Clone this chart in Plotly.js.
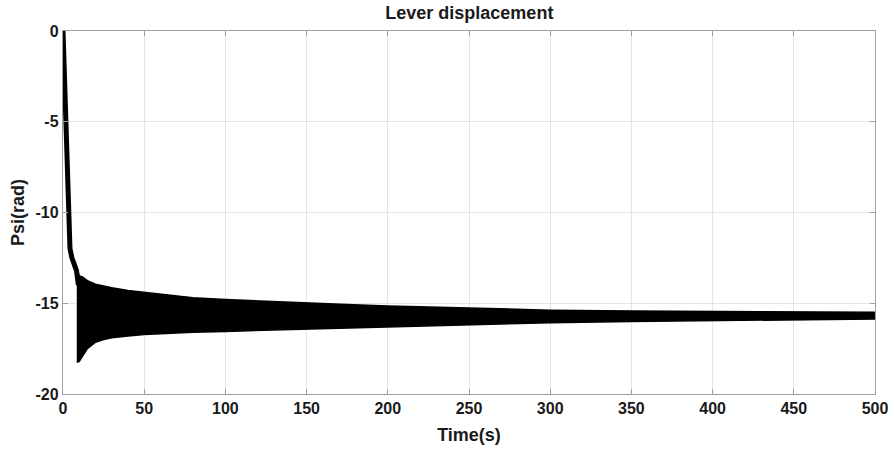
<!DOCTYPE html>
<html>
<head>
<meta charset="utf-8">
<script src="https://cdn.plot.ly/plotly-3.0.1.min.js"></script>
<style>html,body{margin:0;padding:0;background:#fff;}#chart{width:894px;height:452px;}</style>
</head>
<body>
<div id="chart"></div>
<script>
// Initial descent of the lever angle
const tDrop = [0, 3.7, 4.3, 5.5, 7, 8.3, 9.5];
const psiDrop = [0, -10.4, -12.0, -12.5, -12.8, -13.2, -14.0];

// Envelope of the dense oscillation (outer edges)
const tEnv = [8.5, 10, 12, 15, 20, 25, 30, 40, 50, 60, 80, 100, 125, 150, 175, 200, 250, 300, 350, 400, 450, 500];
const psiUpper = [-13.1, -13.5, -13.55, -13.75, -13.95, -14.05, -14.15, -14.3, -14.4, -14.5, -14.7, -14.8, -14.9, -14.97, -15.07, -15.15, -15.28, -15.38, -15.43, -15.46, -15.48, -15.5];
const psiLower = [-18.25, -18.2, -17.9, -17.5, -17.15, -17.0, -16.9, -16.8, -16.72, -16.66, -16.6, -16.55, -16.48, -16.42, -16.35, -16.29, -16.18, -16.07, -16.0, -15.95, -15.9, -15.87];

const xTicks = [0, 50, 100, 150, 200, 250, 300, 350, 400, 450, 500];
const yTicks = [-20, -15, -10, -5, 0];

const bandX = tEnv.concat(tEnv.slice().reverse());
const bandY = psiUpper.concat(psiLower.slice().reverse());

const traces = [
  {x: bandX, y: bandY, type: 'scatter', mode: 'lines', fill: 'toself',
   fillcolor: '#000', line: {color: '#000', width: 1.5}, hoverinfo: 'skip', showlegend: false},
  {x: tDrop, y: psiDrop, type: 'scatter', mode: 'lines',
   line: {color: '#000', width: 5}, showlegend: false}
];

const FONT = 'Liberation Sans, Arial, sans-serif';

const axisCommon = {
  showline: true, mirror: 'ticks', linecolor: '#a0a0a0', linewidth: 1.2,
  showgrid: true, gridcolor: '#e4e4e4', gridwidth: 1,
  ticks: 'inside', ticklen: 5, tickcolor: '#a0a0a0',
  zeroline: false,
  tickfont: {family: FONT, size: 16, color: '#1a1a1a', weight: 'bold'}
};

const layout = {
  width: 894, height: 452,
  margin: {l: 63, r: 19, t: 31, b: 58},
  paper_bgcolor: '#fff', plot_bgcolor: '#fff',
  title: {text: '<b>Lever displacement</b>', x: 0.525, xanchor: 'center', y: 0.973, yanchor: 'middle',
          font: {family: FONT, size: 18, color: '#1a1a1a'}},
  xaxis: Object.assign({}, axisCommon, {
    range: [0, 500], tickvals: xTicks, ticktext: xTicks.map(String),
    title: {text: '<b>Time(s)</b>', standoff: 12,
            font: {family: FONT, size: 18, color: '#1a1a1a'}}
  }),
  yaxis: Object.assign({}, axisCommon, {
    range: [-20, 0], tickvals: yTicks, ticktext: yTicks.map(String),
    title: {text: '<b>Psi(rad)</b>', standoff: 6,
            font: {family: FONT, size: 18, color: '#1a1a1a'}}
  })
};

Plotly.newPlot('chart', traces, layout, {displayModeBar: false, staticPlot: true});
</script>
</body>
</html>
